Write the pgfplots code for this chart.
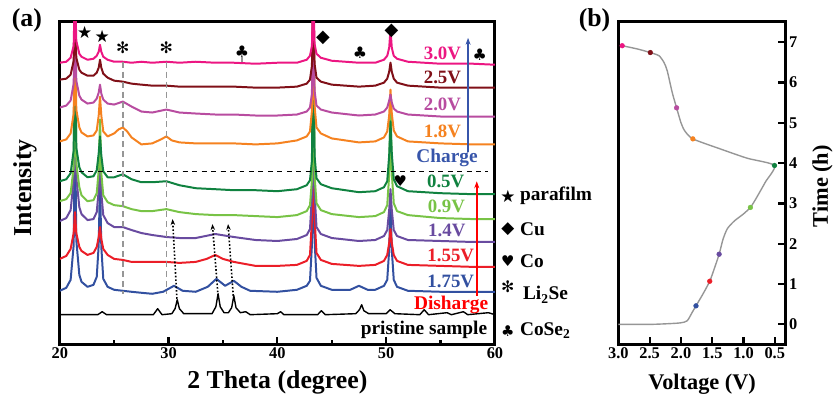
\documentclass[border=0pt]{standalone}
\usepackage{fontspec}
\setmainfont{Liberation Serif}
\newfontfamily\symfont{DejaVu Sans}
\usepackage{pgfplots}
\pgfplotsset{compat=1.18}
\usetikzlibrary{arrows.meta}

\definecolor{cA}{RGB}{236,22,130}   % 3.0V
\definecolor{cB}{RGB}{128,16,24}    % 2.5V
\definecolor{cC}{RGB}{184,76,160}   % 2.0V
\definecolor{cD}{RGB}{245,130,32}   % 1.8V
\definecolor{cE}{RGB}{16,130,64}    % 0.5V
\definecolor{cF}{RGB}{120,195,70}   % 0.9V
\definecolor{cG}{RGB}{105,75,160}   % 1.4V
\definecolor{cH}{RGB}{235,30,40}    % 1.55V
\definecolor{cI}{RGB}{50,80,160}    % 1.75V
\definecolor{chg}{RGB}{55,85,170}
\definecolor{dashgray}{RGB}{150,150,150}

\newcommand\lab{\fontsize{19}{19}\selectfont\bfseries}
\newcommand\blab{\fontsize{19.5}{19.5}\selectfont\bfseries}
\newcommand\axl{\fontsize{26}{26}\selectfont\bfseries}
\newcommand\axb{\fontsize{22.5}{22.5}\selectfont\bfseries}
\newcommand\tkl{\fontsize{16.5}{17}\selectfont\bfseries}
\newcommand\sym[1]{\fontsize{#1}{#1}\symfont\selectfont}

\pgfplotsset{xrd/.style={line width=2bp, line join=round}}

\begin{document}
\begin{tikzpicture}
\path (-60bp,-55bp) rectangle (776bp,346bp);

% ---------- (a) XRD patterns ----------
\begin{axis}[at={(0,0)}, anchor=south west, scale only axis,
  width=437bp, height=324bp,
  xmin=20, xmax=60, ymin=0, ymax=324,
  xtick={20,30,40,50,60}, minor xtick={25,35,45,55},
  ytick=\empty, xtick pos=left,
  tick style={black, line width=2.2bp}, major tick length=8bp, minor tick length=5bp,
  tick align=inside, axis line style={line width=3bp},
  ticklabel style={font=\tkl}, clip mode=individual,
  /pgf/number format/assume math mode=true,
]
% pristine
\addplot[xrd, black, line width=1.4bp] coordinates {
(20.0,30)(23.5,30)(23.9,33)(24.3,30)(28.6,30)(29.0,36)(29.4,30)(30.3,31)(30.6,36)(30.8,45)(31.0,36)(31.4,31)
(34.0,31)(34.35,38)(34.55,51)(34.75,38)(35.1,32)(35.5,32)(35.8,37)(36.0,49)(36.2,37)(36.6,32)(37.1,33)(37.5,30)
(40.0,31)(40.3,33)(40.6,30)(43.7,30)(44.05,34)(44.4,30)(47.2,31)(47.55,35)(47.75,40)(47.95,34)(48.4,31)
(50.0,31)(50.36,35)(50.8,31)(53.1,30)(53.5,35)(53.9,30)(55.6,32)(56.0,30)(57.1,33)(57.5,30)(59.4,32)(60.0,30)};
% 1.75V
\addplot[xrd, cI] coordinates {
(20.0,54)(20.6,57)(21.0,65)(21.28,100)(21.4,226)(21.52,105)(21.8,70)(22.0,63)(22.55,58)(23.1,60)(23.4,68)(23.58,100)
(23.7,166)(23.82,98)(24.0,66)(24.4,58)(25.0,55)(25.8,54)(26.6,53)(27.5,52)(28.5,51)(29.5,53)(30.5,59)(31.3,54)
(32.5,53)(33.6,58)(34.4,66)(35.2,59)(36.0,64)(36.7,58)(37.5,54)(40.0,53)(41.8,55)(42.7,59)(43.0,64)(43.18,100)
(43.3,246)(43.42,105)(43.6,67)(44.0,59)(45.0,55)(46.7,55)(47.5,59)(48.3,55)(49.0,55)(49.8,59)(50.1,65)(50.28,95)
(50.4,146)(50.52,95)(50.7,65)(51.0,58)(52.0,54)(55.0,53)(58.0,53)(60.0,53)};
% 1.55V
\addplot[xrd, cH] coordinates {
(20.0,86)(20.6,89)(21.0,96)(21.28,112)(21.4,133)(21.52,112)(21.8,98)(22.0,94)(22.55,90)(23.1,92)(23.4,98)(23.58,108)
(23.7,118)(23.82,106)(24.0,96)(24.4,90)(25.0,86)(25.8,85)(26.6,83)(27.5,83)(28.5,83)(29.8,83)(31.0,82)(32.5,83)
(33.5,86)(34.3,90)(35.0,86)(36.0,83)(38.0,79)(40.0,79)(41.8,80)(42.7,84)(43.0,90)(43.18,125)(43.3,226)(43.42,128)
(43.6,92)(44.0,85)(45.0,81)(47.5,79)(49.0,80)(49.8,84)(50.1,90)(50.28,102)(50.4,116)(50.52,102)(50.7,90)(51.0,84)
(52.0,80)(55.0,79)(58.0,78)(60.0,78)};
% 1.4V
\addplot[xrd, cG] coordinates {
(20.0,124)(20.6,127)(21.0,135)(21.28,165)(21.4,250)(21.52,168)(21.8,138)(22.0,131)(22.55,125)(23.1,126)(23.4,133)
(23.58,155)(23.7,196)(23.82,152)(24.0,130)(24.4,122)(25.0,118)(25.8,118)(26.6,115)(27.5,112)(28.5,110)(29.8,108)
(31.0,107)(32.5,107)(34.3,111)(36.0,108)(38.0,105)(40.0,104)(41.8,106)(42.7,110)(43.0,116)(43.18,150)(43.3,286)
(43.42,152)(43.6,118)(44.0,111)(45.0,107)(47.5,104)(49.0,105)(49.8,109)(50.1,115)(50.28,135)(50.4,156)(50.52,135)
(50.7,115)(51.0,109)(52.0,105)(55.0,104)(58.0,103)(60.0,103)};
% 0.9V
\addplot[xrd, cF] coordinates {
(20.0,144)(20.6,146)(21.0,152)(21.28,178)(21.4,360)(21.52,182)(21.8,158)(22.0,150)(22.55,144)(23.1,145)(23.4,152)
(23.58,175)(23.7,226)(23.82,172)(24.0,150)(24.4,143)(25.0,140)(25.8,139)(26.6,136)(27.5,134)(28.5,134)(29.8,136)
(31.0,133)(32.5,131)(34.3,130)(36.0,130)(38.0,129)(40.0,128)(41.8,130)(42.7,134)(43.0,140)(43.18,165)(43.3,360)
(43.42,170)(43.6,142)(44.0,135)(45.0,131)(47.5,128)(49.0,129)(49.8,133)(50.1,140)(50.28,170)(50.4,246)(50.52,172)
(50.7,142)(51.0,134)(52.0,130)(55.0,127)(58.0,126)(60.0,126)};
% 0.5V
\addplot[xrd, cE] coordinates {
(20.0,164)(20.6,166)(21.0,172)(21.28,195)(21.4,360)(21.52,198)(21.8,178)(22.0,173)(22.55,168)(23.1,169)(23.4,175)
(23.58,192)(23.7,209)(23.82,190)(24.0,174)(24.4,168)(25.0,168)(25.8,171)(26.6,166)(27.5,163)(28.5,163)(29.8,164)
(31.0,160)(32.5,157)(34.3,156)(36.0,155)(38.0,155)(40.0,154)(41.8,156)(42.7,160)(43.0,165)(43.18,185)(43.3,360)
(43.42,190)(43.6,167)(44.0,161)(45.0,157)(47.5,153)(49.0,154)(49.8,158)(50.1,164)(50.28,190)(50.4,224)(50.52,192)
(50.7,166)(51.0,159)(52.0,154)(55.0,152)(58.0,151)(60.0,151)};
% 1.8V
\addplot[xrd, cD] coordinates {
(20.0,204)(20.6,206)(21.0,212)(21.28,232)(21.4,360)(21.52,236)(21.8,218)(22.0,213)(22.55,209)(23.1,210)(23.4,215)
(23.58,230)(23.7,249)(23.82,230)(24.0,214)(24.4,209)(25.0,212)(25.4,216)(25.8,218)(26.2,214)(26.6,208)(27.5,201)
(28.5,202)(29.3,206)(29.8,209)(30.3,205)(31.0,203)(32.5,202)(34.3,202)(36.0,202)(38.0,201)(40.0,202)(41.8,205)
(42.7,209)(43.0,214)(43.18,235)(43.3,360)(43.42,240)(43.6,218)(44.0,212)(45.0,207)(47.5,203)(49.0,204)(49.8,208)
(50.1,214)(50.28,230)(50.4,256)(50.52,232)(50.7,215)(51.0,209)(52.0,204)(55.0,202)(58.0,201)(60.0,201)};
% 2.0V
\addplot[xrd, cC] coordinates {
(20.0,238)(20.6,240)(21.0,245)(21.28,262)(21.4,360)(21.52,265)(21.8,250)(22.0,246)(22.55,242)(23.1,243)(23.4,247)
(23.58,253)(23.7,261)(23.82,252)(24.0,246)(24.4,242)(25.0,241)(25.8,244)(26.6,239)(27.5,234)(28.5,233)(29.8,236)
(31.0,233)(32.5,232)(34.3,231)(36.0,231)(38.0,230)(40.0,230)(41.8,231)(42.7,234)(43.0,238)(43.18,252)(43.3,360)
(43.42,255)(43.6,240)(44.0,236)(45.0,233)(47.5,230)(49.0,231)(49.8,234)(50.1,238)(50.28,245)(50.4,251)(50.52,243)
(50.7,237)(51.0,234)(52.0,231)(55.0,229)(58.0,229)(60.0,229)};
% 2.5V
\addplot[xrd, cB] coordinates {
(20.0,266)(20.6,267)(21.0,271)(21.28,285)(21.4,360)(21.52,288)(21.8,276)(22.0,273)(22.55,270)(23.1,270)(23.4,273)
(23.58,278)(23.7,286)(23.82,278)(24.0,272)(24.4,268)(25.0,265)(25.8,264)(26.6,262)(27.5,261)(28.5,260)(29.8,260)
(31.0,259)(32.5,259)(34.3,259)(36.0,259)(38.0,258)(40.0,258)(41.8,259)(42.7,262)(43.0,266)(43.18,280)(43.3,360)
(43.42,282)(43.6,268)(44.0,264)(45.0,261)(47.5,259)(49.0,260)(49.8,263)(50.1,267)(50.28,274)(50.4,283)(50.52,274)
(50.7,267)(51.0,263)(52.0,260)(55.0,258)(58.0,258)(60.0,258)};
% 3.0V
\addplot[xrd, cA] coordinates {
(20.0,283)(20.6,284)(21.0,288)(21.28,300)(21.4,360)(21.52,305)(21.8,292)(22.0,289)(22.55,286)(23.1,287)(23.4,290)
(23.58,294)(23.7,301)(23.82,294)(24.0,289)(24.4,286)(25.0,284)(25.8,284)(26.6,283)(27.5,284)(28.5,283)(29.8,284)
(31.0,283)(32.5,284)(34.3,283)(36.0,283)(38.0,282)(40.0,283)(41.8,283)(42.7,286)(43.0,290)(43.18,300)(43.3,360)
(43.42,302)(43.6,292)(44.0,288)(45.0,285)(47.5,283)(49.0,283)(49.8,286)(50.1,290)(50.28,298)(50.4,316)(50.52,298)
(50.7,290)(51.0,287)(52.0,284)(55.0,282)(58.0,282)(60.0,281)};

% guide lines
\draw[dashgray, line width=1.6bp, dash pattern=on 6bp off 4bp] (axis cs:25.8,284) -- (axis cs:25.8,51);
\draw[dashgray, line width=1.6bp, dash pattern=on 6bp off 4bp] (axis cs:29.8,284) -- (axis cs:29.8,51);
\draw[dashgray, line width=1.2bp] (axis cs:36.75,284) -- (axis cs:36.75,289);
\draw[black, line width=1.3bp, dash pattern=on 5bp off 4.5bp] (axis cs:20,174) -- (axis cs:59.36,174);

% dotted arrows
\draw[black, line width=1.6bp, dotted, -{Stealth[length=6bp,width=4.5bp]}] (axis cs:30.77,46) -- (axis cs:30.37,126);
\draw[black, line width=1.6bp, dotted, -{Stealth[length=6bp,width=4.5bp]}] (axis cs:34.55,49) -- (axis cs:34.03,121);
\draw[black, line width=1.6bp, dotted, -{Stealth[length=6bp,width=4.5bp]}] (axis cs:35.95,49) -- (axis cs:35.47,121);

% phase markers
\node[font=\sym{17}] at (axis cs:22.3,313) {★};
\node[font=\sym{17}] at (axis cs:23.9,309) {★};
\node[font=\sym{16}] at (axis cs:25.8,298) {✻};
\node[font=\sym{16}] at (axis cs:29.8,298) {✻};
\node[font=\sym{16}] at (axis cs:36.75,294) {♣};
\node[font=\sym{16}] at (axis cs:47.6,293) {♣};
\node[font=\sym{16}] at (axis cs:58.6,291) {♣};
\node[font=\sym{18}] at (axis cs:44.2,308) {◆};
\node[font=\sym{18}] at (axis cs:50.5,315) {◆};
\node[font=\sym{15}] at (axis cs:51.3,164) {♥};

% charge / discharge arrows
\draw[chg, line width=1.5bp, -{Stealth[length=7bp,width=5bp]}] (axis cs:57.53,193) -- (axis cs:57.53,308);
\draw[red, line width=1.5bp, -{Stealth[length=7bp,width=5bp]}] (axis cs:58.33,49) -- (axis cs:58.33,164);

% voltage labels
\node[anchor=east, text=cA, font=\lab, inner sep=0] at (axis cs:56.9,292) {3.0V};
\node[anchor=east, text=cB, font=\lab, inner sep=0] at (axis cs:56.9,268) {2.5V};
\node[anchor=east, text=cC, font=\lab, inner sep=0] at (axis cs:56.9,241) {2.0V};
\node[anchor=east, text=cD, font=\lab, inner sep=0] at (axis cs:56.9,214) {1.8V};
\node[text=chg, font=\blab, inner sep=0] at (axis cs:55.6,187) {Charge};
\node[anchor=east, text=cE, font=\lab, inner sep=0] at (axis cs:57.2,164) {0.5V};
\node[anchor=east, text=cF, font=\lab, inner sep=0] at (axis cs:57.26,139) {0.9V};
\node[anchor=east, text=cG, font=\lab, inner sep=0] at (axis cs:57.3,115) {1.4V};
\node[anchor=east, text=cH, font=\lab, inner sep=0] at (axis cs:58.1,90) {1.55V};
\node[anchor=east, text=cI, font=\lab, inner sep=0] at (axis cs:58.1,63) {1.75V};
\node[anchor=east, text=red, font=\blab, inner sep=0] at (axis cs:59.4,40) {Disharge};
\node[anchor=east, font=\blab, inner sep=0] at (axis cs:59.3,15) {pristine sample};
\end{axis}

% axis titles (a)
\node[font=\axl] at (218.5bp,-38bp) {2 Theta (degree)};
\node[font=\axl, rotate=90] at (-35bp,157bp) {Intensity};
\node[font=\axl] at (-33bp,326bp) {(a)};

% legend between panels
\node[font=\sym{17}] at (450bp,149bp) {★};
\node[anchor=west, font=\blab, inner sep=0] at (462bp,149bp) {parafilm};
\node[font=\sym{17}] at (450bp,116bp) {◆};
\node[anchor=west, font=\blab, inner sep=0] at (462bp,116bp) {Cu};
\node[font=\sym{15}] at (450bp,84bp) {♥};
\node[anchor=west, font=\blab, inner sep=0] at (462bp,84bp) {Co};
\node[font=\sym{16}] at (450bp,58bp) {✻};
\node[anchor=west, font=\blab, inner sep=0] at (465bp,50bp) {Li$_\mathbf{2}$Se};
\node[font=\sym{15}] at (450bp,14bp) {♣};
\node[anchor=west, font=\blab, inner sep=0] at (462bp,14bp) {CoSe$_\mathbf{2}$};

% ---------- (b) voltage-time ----------
\begin{axis}[at={(561bp,0)}, anchor=south west, scale only axis,
  width=168bp, height=324bp,
  x dir=reverse, xmin=0.325, xmax=3.0, ymin=-0.5, ymax=7.5,
  xtick={0.5,1,1.5,2,2.5,3}, ytick={0,1,...,7},
  xtick pos=left, ytick pos=right, yticklabel pos=right,
  tick style={black, line width=2.2bp}, major tick length=8bp,
  tick align=inside, axis line style={line width=3bp},
  ticklabel style={font=\tkl},
  xticklabel style={/pgf/number format/.cd, fixed, fixed zerofill, precision=1},
  /pgf/number format/assume math mode=true,
]
\addplot[line width=1.4bp, color={rgb,255:red,150;green,150;blue,150}, smooth, tension=0.4] coordinates {
(3.0,0.0)(2.5,0.0)(2.17,0.02)(2.0,0.04)(1.9,0.09)(1.82,0.3)(1.76,0.46)(1.65,0.75)(1.54,1.07)(1.47,1.37)
(1.39,1.74)(1.33,2.1)(1.26,2.37)(1.15,2.56)(1.0,2.74)(0.89,2.90)(0.8,3.12)(0.65,3.53)(0.505,3.94)
(0.94,4.12)(1.37,4.35)(1.81,4.6)(1.94,4.8)(2.0,5.0)(2.07,5.37)(2.14,5.75)(2.22,6.29)(2.27,6.49)
(2.35,6.66)(2.49,6.74)(2.7,6.83)(2.94,6.91)};
\addplot[only marks, mark=*, mark size=2.4bp, cI] coordinates {(1.76,0.46)};
\addplot[only marks, mark=*, mark size=2.4bp, cH] coordinates {(1.54,1.07)};
\addplot[only marks, mark=*, mark size=2.4bp, cG] coordinates {(1.39,1.74)};
\addplot[only marks, mark=*, mark size=2.4bp, cF] coordinates {(0.89,2.90)};
\addplot[only marks, mark=*, mark size=2.4bp, cE] coordinates {(0.505,3.94)};
\addplot[only marks, mark=*, mark size=2.4bp, cD] coordinates {(1.81,4.6)};
\addplot[only marks, mark=*, mark size=2.4bp, cC] coordinates {(2.07,5.37)};
\addplot[only marks, mark=*, mark size=2.4bp, cB] coordinates {(2.49,6.74)};
\addplot[only marks, mark=*, mark size=2.4bp, cA] coordinates {(2.94,6.91)};
\end{axis}
\node[font=\axb] at (645bp,-40bp) {Voltage (V)};
\node[font=\axb, rotate=90] at (766bp,159bp) {Time (h)};
\node[font=\axl] at (537bp,326bp) {(b)};
\end{tikzpicture}
\end{document}
